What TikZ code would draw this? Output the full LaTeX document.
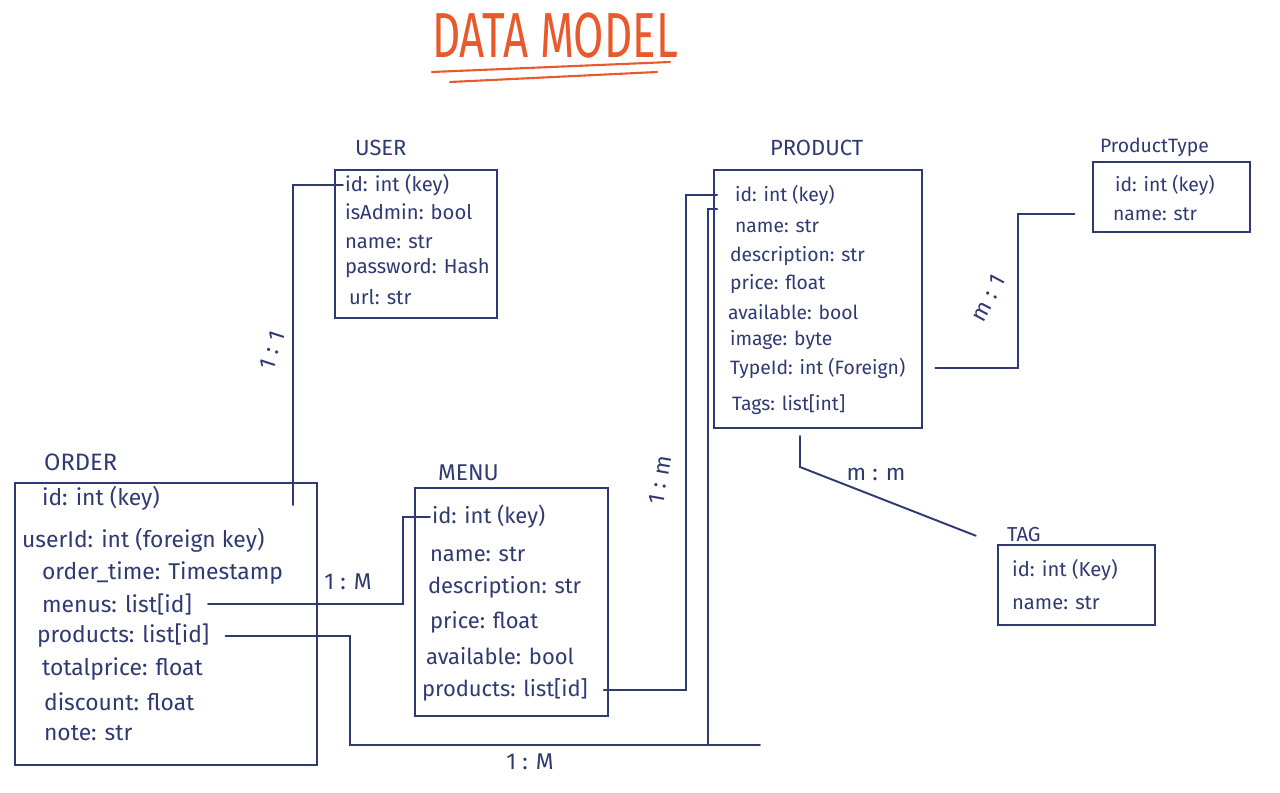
\documentclass[tikz,border=0pt]{standalone}
\usepackage{fontspec}
\setmainfont{Fira Sans}
\usetikzlibrary{fit}
\definecolor{ink}{HTML}{2F3A72}
\definecolor{marker}{HTML}{E8592B}
\tikzset{
  entity/.style={draw=ink, line width=1.1pt, inner sep=0pt},
  attr/.style={anchor=west, text=ink, inner sep=1pt, font=\fontsize{#1}{#1}\selectfont},
  title/.style={anchor=west, text=ink, inner sep=1pt, font=\fontsize{#1}{#1}\selectfont},
  link/.style={draw=ink, line width=1.1pt, line cap=round},
  card/.style={text=ink, inner sep=1pt, font=\fontsize{13}{15}\selectfont},
}
\begin{document}
\begin{tikzpicture}[x=0.02cm,y=-0.02cm]
\useasboundingbox (0,0) rectangle (1280,792);
% title
\node[text=marker, font=\fontsize{25}{28}\selectfont] at (555,36) (dm) {\scalebox{1}[1.45]{DATA MODEL}};
\draw[marker, line width=1.2pt, line cap=round] (432,72) -- (670,62) (450,82) -- (657,72);
% USER
\node[title=12.5] at (353,148) (ut) {USER};
\node[entity, fit={(335,170) (497,318)}] (ubox) {};
\node[attr=11.5] at (343,185) (uid) {id: int (key)};
\node[attr=11.5] at (343,212) (uadmin) {isAdmin: bool};
\node[attr=11.5] at (343,242) (uname) {name: str};
\node[attr=11.5] at (343,268) (upass) {password: Hash};
\node[attr=11.5] at (347,297) (uurl) {url: str};
% ORDER
\node[title=13.5] at (42,462) (ot) {ORDER};
\node[entity, fit={(15,483) (317,765)}] (obox) {};
\node[attr=13] at (40,498) (oid) {id: int (key)};
\node[attr=13] at (20,540) (ouser) {userId: int (foreign key)};
\node[attr=13] at (40,573) (otime) {order\_time: Timestamp};
\node[attr=13] at (40,604) (omenus) {menus: list[id]};
\node[attr=13] at (35,636) (oprod) {products: list[id]};
\node[attr=13] at (40,669) (ototal) {totalprice: float};
\node[attr=13] at (42,702) (odisc) {discount: float};
\node[attr=13] at (42,733) (onote) {note: str};
% MENU
\node[title=13] at (436,473) (mt) {MENU};
\node[entity, fit={(415,488) (608,716)}] (mbox) {};
\node[attr=12.5] at (430,517) (mid) {id: int (key)};
\node[attr=12.5] at (428,554) (mname) {name: str};
\node[attr=12.5] at (426,587) (mdesc) {description: str};
\node[attr=12.5] at (428,622) (mprice) {price: float};
\node[attr=12.5] at (424,656) (mavail) {available: bool};
\node[attr=12.5] at (420,690) (mprod) {products: list[id]};
% PRODUCT
\node[title=12.5] at (768,148) (pt) {PRODUCT};
\node[entity, fit={(714,170) (922,428)}] (pbox) {};
\node[attr=11] at (733,195) (pid) {id: int (key)};
\node[attr=11] at (733,226) (pname) {name: str};
\node[attr=11] at (728,256) (pdesc) {description: str};
\node[attr=11] at (728,284) (pprice) {price: float};
\node[attr=11] at (726,312) (pavail) {available: bool};
\node[attr=11] at (728,340) (pimage) {image: byte};
\node[attr=11] at (728,368) (ptypeid) {TypeId: int (Foreign)};
\node[attr=11] at (730,405) (ptags) {Tags: list[int]};
% PRODUCT TYPE
\node[title=11] at (1098,147) (tt) {ProductType};
\node[entity, fit={(1093,162) (1250,232)}] (tbox) {};
\node[attr=11] at (1113,185) (tid) {id: int (key)};
\node[attr=11] at (1111,214) (tname) {name: str};
% TAG
\node[title=11.5] at (1005,535) (gt) {TAG};
\node[entity, fit={(998,545) (1155,625)}] (gbox) {};
\node[attr=11.5] at (1010,570) (gid) {id: int (Key)};
\node[attr=11.5] at (1010,603) (gname) {name: str};
% connectors
\coordinate (ou) at (293,505);
\coordinate (mbend) at (403,517);
\coordinate (obot) at (350,745);
\coordinate (pbot) at (708,745);
\coordinate (pend) at (760,745);
\coordinate (mpx) at (686,300);
\coordinate (tyx) at (1018,300);
\coordinate (tgx) at (800,467);
\draw[link] (ou) |- (uid.west);
\draw[link] ([xshift=8pt]omenus.east) -| (mbend) -- (mid.west);
\draw[link, shorten >=9pt] ([xshift=8pt]oprod.east) -| (obot) -- (pend) (pbot) |- ([yshift=-8pt]pid.west);
\draw[link, shorten >=9pt] ([xshift=8pt]mprod.east) -| (mpx) |- (pid.west);
\draw[link, shorten <=7pt, shorten >=10pt] (pbox.east |- ptypeid.east) -| (tyx) |- (tbox.west |- tname.west);
\draw[link, shorten <=4pt, shorten >=13pt] (pbox.south -| tgx) -- (tgx) -- (gbox.north west);
% cardinalities
\node[card, rotate=72] at (272,350) (c1) {1 : 1};
\node[card] at (348,582) (c2) {1 : M};
\node[card, rotate=80] at (660,480) (c3) {1 : m};
\node[card] at (530,762) (c4) {1 : M};
\node[card, rotate=62] at (988,298) (c5) {m : 1};
\node[card] at (876,474) (c6) {m : m};
\end{tikzpicture}
\end{document}
